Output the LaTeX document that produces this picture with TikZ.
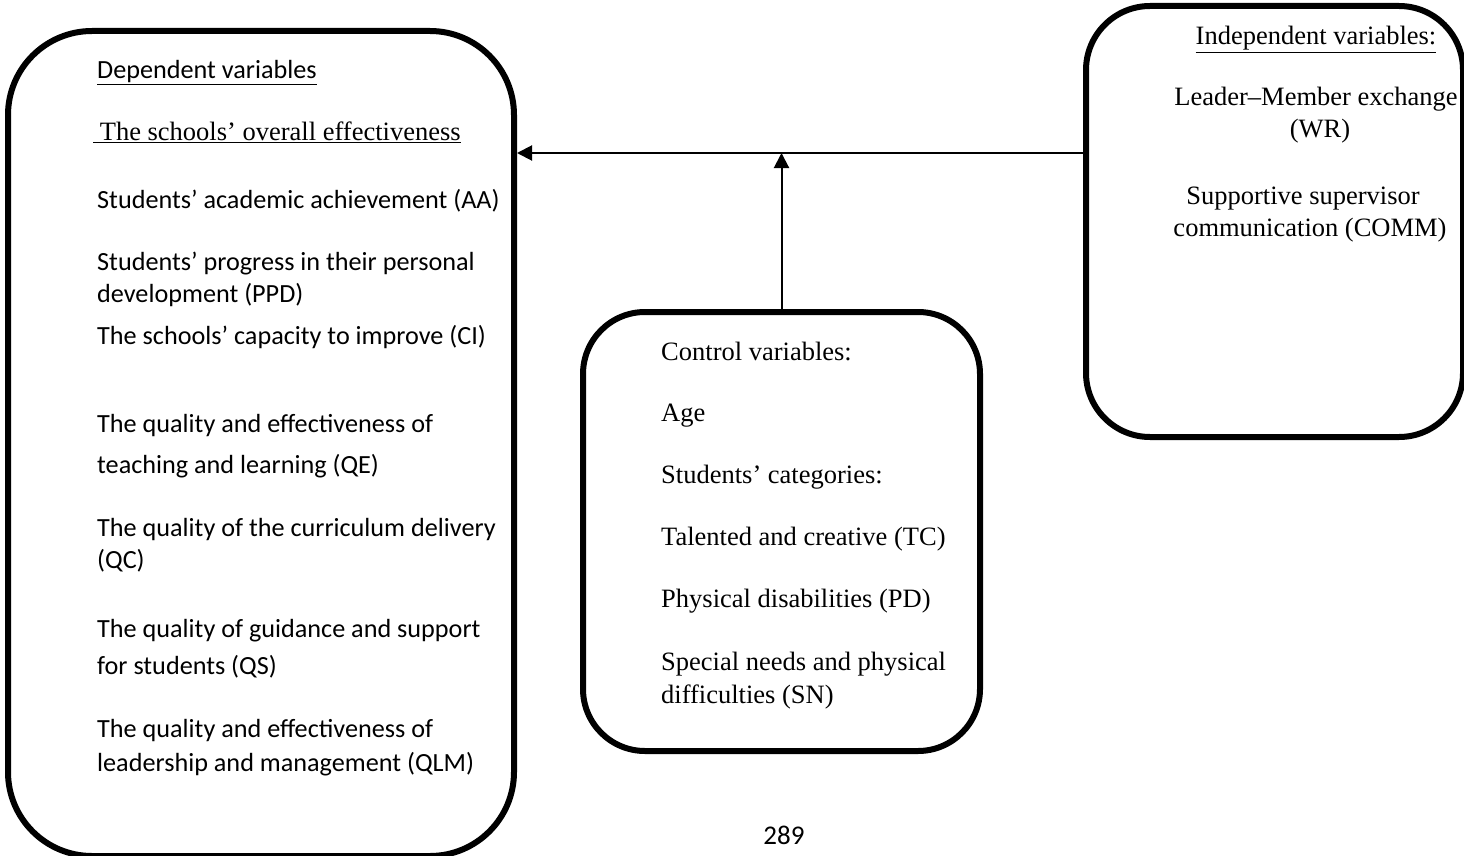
\documentclass[tikz,border=0pt]{standalone}
\usepackage{fontspec}
\setmainfont{Liberation Serif}
\newfontfamily\carl{Carlito}
\usetikzlibrary{arrows.meta}
\begin{document}
\begin{tikzpicture}[x=1pt,y=-1pt,
  box/.style={draw, line width=6pt, anchor=north west, inner sep=0pt},
  conn/.style={line width=2pt, -{Triangle[length=15pt,width=15pt]}},
  ctxt/.style={anchor=base west, inner sep=0pt, font=\carl\fontsize{26.2}{30}\selectfont},
  ttxt/.style={anchor=base west, inner sep=0pt, font=\fontsize{26.5}{30}\selectfont},
  rtxt/.style={anchor=base, inner sep=0pt, font=\fontsize{26.5}{30}\selectfont}]
\useasboundingbox (0,0) rectangle (1464,856);
% boxes
\node[box, rounded corners=84pt, minimum width=506pt, minimum height=825pt] (dep) at (5,28) {};
\node[box, rounded corners=64pt, minimum width=377pt, minimum height=431pt] (indep) at (1083,3) {};
\node[box, rounded corners=62pt, minimum width=397pt, minimum height=439pt] (ctrl) at (580,309) {};
\coordinate (ay) at (0,153);
% connectors
\draw[conn] (indep.west |- ay) -- (dep.east |- ay);
\draw[conn] (ctrl.north) -- (ctrl.north |- ay);
% left texts
\node[ctxt] (d1) at (97,79) {\underline{Dependent variables}};
\node[ttxt] (d2) at (93,141) {\underline{\ The schools’ overall effectiveness}};
\node[ctxt] (d3) at (97,208) {Students’ academic achievement (AA)};
\node[ctxt] (d4) at (97,270) {Students’ progress in their personal};
\node[ctxt] (d5) at (97,302) {development (PPD)};
\node[ctxt] (d6) at (97,344) {The schools’ capacity to improve (CI)};
\node[ctxt] (d7) at (97,432) {The quality and effectiveness of};
\node[ctxt] (d8) at (97,473) {teaching and learning (QE)};
\node[ctxt] (d9) at (97,536) {The quality of the curriculum delivery};
\node[ctxt] (d10) at (97,568) {(QC)};
\node[ctxt] (d11) at (97,637) {The quality of guidance and support};
\node[ctxt] (d12) at (97,674) {for students (QS)};
\node[ctxt] (d13) at (97,737) {The quality and effectiveness of};
\node[ctxt] (d14) at (97,771) {leadership and management (QLM)};
% middle texts
\node[ttxt] (c1) at (661,360) {Control variables:};
\node[ttxt] (c2) at (661,421) {Age};
\node[ttxt] (c3) at (661,483) {Students’ categories:};
\node[ttxt] (c4) at (661,545) {Talented and creative (TC)};
\node[ttxt] (c5) at (661,607) {Physical disabilities (PD)};
\node[ttxt] (c6) at (661,670) {Special needs and physical};
\node[ttxt] (c7) at (661,703) {difficulties (SN)};
% right texts
\node[rtxt] (i1) at (1316,45) {\underline{Independent variables:}};
\node[rtxt] (i2) at (1316,106) {Leader–Member exchange};
\node[rtxt] (i3) at (1320,138) {(WR)};
\node[rtxt] (i4) at (1303,204) {Supportive supervisor};
\node[rtxt] (i5) at (1310,236) {communication (COMM)};
% page number
\node[ctxt, anchor=base, font=\carl\fontsize{27}{30}\selectfont] (pg) at (784,844) {289};
\end{tikzpicture}
\end{document}
